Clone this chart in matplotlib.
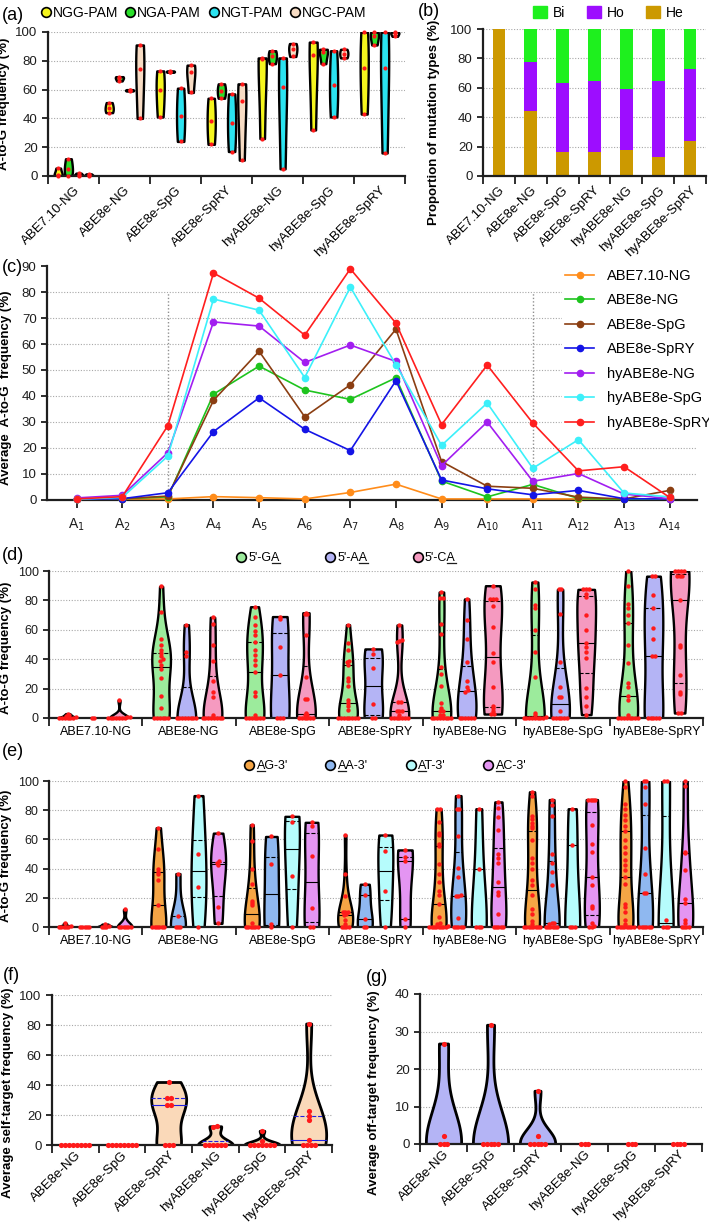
import numpy as np
import matplotlib
matplotlib.use("Agg")
import matplotlib.pyplot as plt
from matplotlib.lines import Line2D
from matplotlib.patches import Patch

plt.rcParams["font.family"] = ["Liberation Sans", "DejaVu Sans"]

W, H = 709, 1222
RED = "#FF1A1A"
INK = "#1E1E1E"

# ---------------- data ----------------
editors7 = ["ABE7.10-NG", "ABE8e-NG", "ABE8e-SpG", "ABE8e-SpRY",
            "hyABE8e-NG", "hyABE8e-SpG", "hyABE8e-SpRY"]
editors6 = editors7[1:]

# (a) A-to-G frequency per PAM
pam_labels = ["NGG-PAM", "NGA-PAM", "NGT-PAM", "NGC-PAM"]
a_ngg = [[0.3, 0.8, 5.5], [44, 47, 51], [41, 60, 73], [22, 38, 54],
         [26, 81, 82], [32, 84, 93], [43, 75, 100]]
a_nga = [[0.3, 5, 12], [66, 68, 69], [72, 72.5, 73], [54, 59, 64],
         [78, 83, 87], [78, 86, 88], [91, 97, 100]]
a_ngt = [[0.3, 0.8, 2], [59, 59.5, 60], [24, 42, 61], [17, 37, 57],
         [5, 62, 82], [41, 63, 87], [16, 75, 100]]
a_ngc = [[0.2, 0.6, 1.5], [40, 74, 91], [58, 72, 77], [11, 52, 64],
         [83, 88, 92], [82, 85, 88], [97, 99, 100]]

# (b) proportion of mutation types
b_he = [100, 44, 16, 16.5, 18, 13, 23.5]
b_ho = [0, 33.5, 47.5, 48, 41, 51.5, 49.5]
b_bi = [0, 22.5, 36.5, 35.5, 41, 35.5, 27]

# (c) average A-to-G frequency at A1..A14
c_pos = list(range(1, 15))
c_abe710_ng = [0.4, 0.4, 0.4, 1.3, 0.9, 0.4, 2.9, 6.1, 0.4, 0.4, 0.4, 0.4, 0.4, 0.4]
c_abe8e_ng = [0.3, 0.5, 1.2, 40.7, 51.5, 42.3, 38.7, 47.0, 7.3, 1.2, 6.0, 0.6, 0.3, 0.4]
c_abe8e_spg = [0.3, 0.5, 1.5, 38.3, 57.2, 32.0, 44.3, 65.7, 14.8, 5.3, 4.5, 1.1, 0.4, 3.7]
c_abe8e_spry = [0.3, 0.5, 2.8, 26.3, 39.3, 27.2, 19.0, 45.9, 7.7, 4.3, 2.0, 3.7, 0.5, 0.4]
c_hy_ng = [0.8, 1.8, 18.2, 68.5, 66.9, 52.9, 59.6, 53.3, 13.2, 30.0, 7.2, 10.2, 2.3, 0.5]
c_hy_spg = [0.3, 1.0, 16.9, 77.3, 73.0, 47.1, 81.9, 52.0, 21.0, 37.3, 12.2, 23.2, 2.7, 1.2]
c_hy_spry = [0.4, 1.3, 28.6, 87.3, 77.6, 63.4, 88.9, 68.0, 29.0, 51.9, 29.6, 11.2, 12.8, 1.0]

# (d) by 5' context (underlined base index given separately)
d_labels = ["5'-GA", "5'-AA", "5'-CA"]
d_under = [4, 4, 4]
d_ga = [
    [0, 0, 0, 0, 0, 0, 1, 1.5, 2, 3],
    [0, 0, 0, 0, 0, 0, 7, 15, 27, 33, 36, 39, 40, 42, 44, 46, 50, 53.5, 72, 89.5],
    [0, 0, 0, 0, 0, 0, 0, 2.3, 14.7, 18, 31.6, 36, 39.5, 43, 46, 52, 56.5, 59, 63, 69, 75.7],
    [0, 0, 0, 0, 0, 0, 0, 0, 5.7, 8, 10, 12.5, 21.5, 25, 27, 36, 38, 39, 46, 51, 63.5],
    [0, 0, 0, 0, 0, 0, 0, 0, 2.3, 2.3, 4.5, 4.5, 6.8, 10, 21.5, 30, 34.6, 57, 64, 81.6, 81.6, 85.7],
    [0, 0, 0, 0, 0, 0, 0, 0, 1, 2, 3.4, 28, 45, 60, 75, 76.6, 87.5, 92.5],
    [0, 0, 0, 0, 0, 0, 0, 0, 2.2, 12.4, 14.7, 21, 23.7, 37.3, 49.7, 64.4, 70, 75, 77.5, 90, 100],
]
d_aa = [
    [0, 0],
    [0, 0, 0, 0, 0, 0, 0, 0, 42.5, 45, 63.5],
    [0, 0, 0, 29.4, 48.5, 67.5, 69],
    [0, 0, 9.5, 34, 43.5, 47],
    [0, 0, 0, 0, 0, 0, 18, 19, 21, 25.5, 38.4, 54, 66.7, 81],
    [0, 0, 0, 0, 0, 0, 4.5, 14, 14, 21, 38, 71, 87.5, 87.5],
    [0, 0, 0, 0, 0, 42, 42, 53.5, 61, 75, 84, 96.5, 96.5],
]
d_ca = [
    [0, 0, 0, 0, 0, 0, 0, 0.5, 1, 12],
    [0, 0, 0, 0, 0, 0, 0, 0, 2, 14, 17.5, 25, 39, 50, 64, 68.5],
    [0, 0, 0, 0, 0, 0, 2, 2, 3.4, 12.9, 12.9, 28, 56.5, 70.5, 71, 71.6],
    [0, 0, 0, 0, 0, 0, 0, 2.3, 4.5, 4.5, 5, 10.6, 10.6, 52, 52.7, 53, 63.3],
    [2.7, 2.7, 4.5, 6.8, 8.4, 21, 38.4, 44, 62, 76, 81, 81, 81, 90],
    [2.3, 8, 14, 20.3, 40.7, 45, 48.5, 51, 60, 70, 82, 84.5, 87.5, 87.5, 87.5],
    [3.4, 3.4, 16.5, 18, 29.4, 48.6, 50, 80, 96.5, 96.5, 96.5, 100, 100, 100, 100],
]

# (e) by 3' context
e_labels = ["AG-3'", "AA-3'", "AT-3'", "AC-3'"]
e_under = [0, 0, 0, 0]
e_ag = [
    [0, 0, 0, 0, 0, 1, 2.5],
    [0, 0, 0, 0, 0, 0, 15, 32.5, 36, 37.8, 40, 53.5, 68],
    [0, 0, 0, 0, 0, 0, 2.5, 15.2, 16.6, 18, 29.5, 40, 59, 70],
    [0, 0, 0, 0, 2, 5, 8, 9, 10, 10.6, 10.6, 21, 36, 63],
    [0, 0, 0, 0, 0, 0, 0, 0, 1, 2, 3, 6.7, 16, 21.7, 24.4, 30.9, 36.6, 43, 55.8, 57, 63,
     64.3, 72, 81, 81],
    [0, 0, 0, 0, 0, 0, 0, 0, 2, 4, 9, 12.4, 21.7, 28.6, 32, 40, 43.5, 47, 59.7, 67.7, 69,
     71.2, 74, 75.8, 89.6, 92.6],
    [0, 0, 0, 0, 0, 0, 0, 0, 2, 5, 10, 13.6, 16, 29.7, 34.3, 39, 42.4, 45.8, 50.5, 55,
     59.7, 65.5, 69, 73.5, 77, 81, 84.3, 96, 100],
]
e_aa = [
    [0, 0, 0, 0, 0],
    [0, 0, 0, 7.4, 36.6],
    [0, 2, 43, 62],
    [0, 0, 5.5, 22, 29.3],
    [0, 0, 0, 0, 0, 6, 21.2, 21.2, 22, 34.3, 40.5, 62, 81, 81, 90],
    [0, 0, 0, 0, 0, 0, 2, 3, 3, 28.6, 37.8, 43.5, 49.8, 75.8, 83.4, 87.3],
    [0, 0, 0, 0, 0, 0, 23.5, 23.5, 36, 54, 84.3, 96, 100, 100],
]
e_at = [
    [0, 0, 0, 1, 2],
    [0, 27.4, 49.8, 90],
    [0, 35, 71.7, 75.8],
    [0, 24.4, 52, 63],
    [0, 0, 0, 39.5, 81],
    [0, 0, 0, 56, 81],
    [0, 0, 0, 5, 100, 100],
]
e_ac = [
    [0, 0, 0, 0, 0, 0, 12],
    [2.5, 14, 42.4, 44, 45, 64.3],
    [0, 0, 12.9, 48.6, 69.4, 71.7],
    [0, 5.5, 45, 48, 52.8],
    [0, 0, 0, 0, 0, 9, 21.7, 24, 31, 43.5, 47.5, 49.8, 66.6, 75.3, 81.6, 85.7],
    [0, 0, 1, 3, 12.9, 14.7, 28.6, 34, 51.6, 56.7, 69.6, 87.3, 87.3, 87.3, 87.3],
    [0, 0, 0, 0, 2.5, 5, 16.6, 19.4, 39, 50.4, 51.6, 96.5, 100],
]

# (f) self-target, (g) off-target
f_self = [
    [0, 0, 0, 0, 0, 0, 0, 0],
    [0, 0, 0, 0, 0, 0, 0, 0],
    [0, 0, 0, 26.5, 26.5, 31.5, 31.5, 42],
    [0, 0, 0, 0, 0, 0, 12, 12.5],
    [0, 0, 0, 0, 0, 0, 0, 2.5, 9.5],
    [0, 0, 0, 0, 3.5, 16.5, 19.5, 22.5, 81],
]
g_off = [
    [0, 0, 0, 2.2, 26.8],
    [0, 0, 0, 0, 0, 31.8],
    [0, 0, 0, 0, 0, 2.2, 14.2],
    [0, 0, 0],
    [0, 0, 0],
    [0, 0, 0, 0],
]


# ---------------- helpers ----------------
def px_axes(fig, left, top, right, bottom):
    return fig.add_axes([left / W, 1 - bottom / H, (right - left) / W, (bottom - top) / H])


def style(ax, size=9):
    for s in ("top", "right"):
        ax.spines[s].set_visible(False)
    for s in ("left", "bottom"):
        ax.spines[s].set_linewidth(1.6)
        ax.spines[s].set_color(INK)
    ax.tick_params(width=1.3, length=4, labelsize=size, colors=INK)
    ax.yaxis.grid(True, color="#A8A8A8", linestyle=(0, (1, 1.5)), linewidth=0.8)
    ax.set_axisbelow(True)


def boundary_ticks(ax, labels, size=9, rotate=False):
    n = len(labels)
    ax.set_xlim(-0.5, n - 0.5)
    ax.set_xticks(np.arange(-0.5, n, 1.0), labels=[])
    ax.set_xticks(np.arange(n), minor=True)
    if rotate:
        ax.set_xticklabels(labels, minor=True, rotation=45, ha="right",
                           rotation_mode="anchor", fontsize=size)
    else:
        ax.set_xticklabels(labels, minor=True, fontsize=size)
    ax.tick_params(axis="x", which="minor", length=0, pad=6)
    ax.tick_params(axis="x", which="major", length=6)


def ylabel_at(ax, text, x_px, y_px, left, top, right, bottom, size=9.5):
    ax.set_ylabel(text, fontsize=size, fontweight="bold")
    ax.yaxis.set_label_coords((x_px - left) / (right - left),
                              (bottom - y_px) / (bottom - top))


def spread(vals, pos, dx, tol):
    vals = np.sort(np.asarray(vals, dtype=float))
    xs = np.empty_like(vals)
    i = 0
    while i < len(vals):
        j = i
        while j + 1 < len(vals) and vals[j + 1] - vals[i] <= tol:
            j += 1
        n = j - i + 1
        xs[i:j + 1] = pos + (np.arange(n) - (n - 1) / 2) * dx
        i = j + 1
    return xs, vals


def half_width(body, pos, y):
    v = body.get_paths()[0].vertices
    r = v[v[:, 0] >= pos]
    order = np.argsort(r[:, 1])
    return np.interp(y, r[order, 1], r[order, 0]) - pos


def violins(ax, groups, positions, color, width, dx, tol=1.0, lw=1.6, pt=10,
            lines=None):
    for vals, p in zip(groups, positions):
        vals = np.asarray(vals, dtype=float)
        if np.ptp(vals) > 0:
            parts = ax.violinplot([vals], positions=[p], widths=width,
                                  showextrema=False, points=200)
            body = parts["bodies"][0]
            body.set_facecolor(color)
            body.set_edgecolor("black")
            body.set_linewidth(lw)
            body.set_alpha(1)
            body.set_zorder(2)
            if lines is not None:
                q1, med, q3 = np.percentile(vals, [25, 50, 75])
                for y, ls in ((med, "-"), (q1, "--"), (q3, "--")):
                    if y <= vals.min() or y >= vals.max():
                        continue
                    hw = half_width(body, p, y)
                    ax.plot([p - hw, p + hw], [y, y], color=lines, lw=0.8,
                            ls=ls, zorder=3)
        xs, ys = spread(vals, p, dx, tol)
        ax.scatter(xs, ys, s=pt, color=RED, zorder=4, clip_on=False, linewidths=0)


def circle_handles(colors):
    return [Line2D([], [], ls="none", marker="o", ms=7, mfc=c, mec="black", mew=1.2)
            for c in colors]


def underline(fig, leg, idxs):
    # draw a short underline below one character of each legend text
    renderer = fig.canvas.get_renderer()
    for t, i in zip(leg.get_texts(), idxs):
        s = t.get_text()
        bb = t.get_window_extent(renderer)
        prop = t.get_fontproperties()
        w0 = renderer.get_text_width_height_descent(s[:i], prop, ismath=False)[0] if i else 0
        w1 = renderer.get_text_width_height_descent(s[:i + 1], prop, ismath=False)[0]
        y = bb.y0 + 1.5
        fig.add_artist(Line2D([(bb.x0 + w0) / W, (bb.x0 + w1) / W], [y / H, y / H],
                              transform=fig.transFigure, color=INK, lw=0.9))


fig = plt.figure(figsize=(W / 100, H / 100), dpi=100)
fig.patch.set_facecolor("white")
PL = 13  # panel letter size

# ---------------- (a) ----------------
ax = px_axes(fig, 48, 32, 405, 176)
style(ax, 9.5)
pam_colors = ["#F5F51E", "#2BE02B", "#2BE3F0", "#F7DCC4"]
offs = [-0.3, -0.1, 0.1, 0.3]
x7 = np.arange(len(editors7))
for data, col, off in zip([a_ngg, a_nga, a_ngt, a_ngc], pam_colors, offs):
    violins(ax, data, x7 + off, col, 0.16, 0.0, tol=0, lw=1.7, pt=9)
ax.set_ylim(0, 100)
ax.set_yticks(range(0, 101, 20))
boundary_ticks(ax, editors7, 9.5, rotate=True)
ylabel_at(ax, "A-to-G frequency (%)", 10, 104, 48, 32, 405, 176)
ax.legend(circle_handles(pam_colors), pam_labels, ncol=4, frameon=False,
          loc="center left", bbox_to_anchor=(40 / W, 1 - 13 / H),
          bbox_transform=fig.transFigure, fontsize=10, handlelength=0.8,
          handletextpad=0.1, columnspacing=0.5, borderpad=0, borderaxespad=0)
fig.text(2 / W, 1 - 15 / H, "(a)", fontsize=PL, va="center", ha="left")

# ---------------- (b) ----------------
ax = px_axes(fig, 483, 29, 706, 176)
style(ax, 9.5)
ax.bar(x7, b_he, 0.4, color="#CC9900", zorder=2)
ax.bar(x7, b_ho, 0.4, bottom=b_he, color="#9D0DFF", zorder=2)
ax.bar(x7, b_bi, 0.4, bottom=np.add(b_he, b_ho), color="#1EF01E", zorder=2)
ax.set_ylim(0, 100)
ax.set_yticks(range(0, 101, 20))
boundary_ticks(ax, editors7, 9.5, rotate=True)
ylabel_at(ax, "Proportion of mutation types (%)", 440, 122, 483, 29, 706, 176)
ax.legend([Patch(color="#1EF01E"), Patch(color="#9D0DFF"), Patch(color="#CC9900")],
          ["Bi", "Ho", "He"], ncol=3, frameon=False, loc="center left",
          bbox_to_anchor=(533 / W, 1 - 13 / H), bbox_transform=fig.transFigure,
          fontsize=10, handlelength=1.0, handleheight=1.0, handletextpad=0.4,
          columnspacing=1.6, borderpad=0, borderaxespad=0)
fig.text(418 / W, 1 - 11 / H, "(b)", fontsize=PL, va="center", ha="left")

# ---------------- (c) ----------------
ax = px_axes(fig, 47, 266, 697, 500)
style(ax, 9.5)
ax.yaxis.grid(False)
ax.set_xlim(0.35, 14.6)
ax.set_ylim(0, 90)
ax.hlines(range(10, 90, 10), 0.35, 14.6, color="#A8A8A8",
          linestyle=(0, (1, 1.5)), linewidth=0.8, zorder=0)
ax.vlines([3, 11], 0, 80, color="#909090", linestyle=(0, (1, 1.5)), linewidth=1.0,
          zorder=0)
c_series = [
    ("ABE7.10-NG", c_abe710_ng, "#FF8C1A"),
    ("ABE8e-NG", c_abe8e_ng, "#1EC41E"),
    ("ABE8e-SpG", c_abe8e_spg, "#8B3E12"),
    ("ABE8e-SpRY", c_abe8e_spry, "#1414E6"),
    ("hyABE8e-NG", c_hy_ng, "#A21EF0"),
    ("hyABE8e-SpG", c_hy_spg, "#3CF0FA"),
    ("hyABE8e-SpRY", c_hy_spry, "#FF1E1E"),
]
for name, vals, col in c_series:
    ax.plot(c_pos, vals, "-o", color=col, lw=1.2, ms=4.5, label=name, clip_on=False,
            zorder=3)
ax.set_yticks(range(0, 91, 10))
ax.set_xticks(c_pos, [f"A$_{{{i}}}$" for i in c_pos], fontsize=10)
ax.tick_params(axis="x", length=6, pad=6)
ylabel_at(ax, "Average  A-to-G  frequency (%)", 12, 388, 47, 266, 697, 500)
leg = ax.legend(loc="upper left", bbox_to_anchor=(562 / W, 1 - 266 / H),
                bbox_transform=fig.transFigure, fontsize=10.5, frameon=True,
                handlelength=2.0, handletextpad=0.9, labelspacing=0.72,
                borderpad=0.2, borderaxespad=0)
leg.get_frame().set_edgecolor("none")
leg.get_frame().set_facecolor("white")
leg.get_frame().set_alpha(1)
fig.text(2 / W, 1 - 268 / H, "(c)", fontsize=PL, va="center", ha="left")

# ---------------- (d) ----------------
ax = px_axes(fig, 49, 571, 703, 718)
style(ax, 9)
d_colors = ["#9CEB9C", "#B4B4F5", "#F59AC0"]
for data, col, off in zip([d_ga, d_aa, d_ca], d_colors, [-0.3, -0.03, 0.25]):
    violins(ax, data, x7 + off, col, 0.2, 0.03, tol=1.0, lw=1.7, pt=10, lines="black")
ax.set_ylim(0, 100)
ax.set_yticks(range(0, 101, 20))
boundary_ticks(ax, editors7, 9)
ylabel_at(ax, "A-to-G frequency (%)", 12, 648, 49, 571, 703, 718)
leg_d = ax.legend(circle_handles(d_colors), d_labels, ncol=3, frameon=False,
                  loc="center left", bbox_to_anchor=(236 / W, 1 - 558 / H),
                  bbox_transform=fig.transFigure, fontsize=9, handlelength=0.8,
                  handletextpad=0.2, columnspacing=3.6, borderpad=0, borderaxespad=0)
fig.text(2 / W, 1 - 555 / H, "(d)", fontsize=PL, va="center", ha="left")

# ---------------- (e) ----------------
ax = px_axes(fig, 49, 781, 703, 927)
style(ax, 9)
e_colors = ["#F5A545", "#8FB8F0", "#B6FCFC", "#E495F2"]
for data, col, off in zip([e_ag, e_aa, e_at, e_ac], e_colors, [-0.33, -0.12, 0.1, 0.31]):
    violins(ax, data, x7 + off, col, 0.16, 0.025, tol=1.0, lw=1.7, pt=10, lines="black")
ax.set_ylim(0, 100)
ax.set_yticks(range(0, 101, 20))
boundary_ticks(ax, editors7, 9)
ylabel_at(ax, "A-to-G frequency (%)", 12, 856, 49, 781, 703, 927)
leg_e = ax.legend(circle_handles(e_colors), e_labels, ncol=4, frameon=False,
                  loc="center left", bbox_to_anchor=(244 / W, 1 - 766 / H),
                  bbox_transform=fig.transFigure, fontsize=9, handlelength=0.8,
                  handletextpad=0.2, columnspacing=3.0, borderpad=0, borderaxespad=0)
fig.text(2 / W, 1 - 752 / H, "(e)", fontsize=PL, va="center", ha="left")

# ---------------- (f) ----------------
x6 = np.arange(len(editors6))
ax = px_axes(fig, 52, 995, 332, 1145)
style(ax, 9.5)
violins(ax, f_self, x6, "#FAD9B9", 0.75, 0.085, tol=1.0, lw=2.0, pt=14, lines="#2020E0")
ax.set_ylim(0, 100)
ax.set_yticks(range(0, 101, 20))
boundary_ticks(ax, editors6, 9.5, rotate=True)
ax.tick_params(axis="x", which="minor", pad=3)
ylabel_at(ax, "Average self-target frequency (%)", 14, 1093, 52, 995, 332, 1145)
fig.text(3 / W, 1 - 975 / H, "(f)", fontsize=PL, va="center", ha="left")

# ---------------- (g) ----------------
ax = px_axes(fig, 420, 994, 702, 1144)
style(ax, 9.5)
violins(ax, g_off, x6, "#B4B4F5", 0.75, 0.085, tol=1.0, lw=2.0, pt=14)
ax.set_ylim(0, 40)
ax.set_yticks(range(0, 41, 10))
boundary_ticks(ax, editors6, 9.5, rotate=True)
ax.tick_params(axis="x", which="minor", pad=3)
ylabel_at(ax, "Average off-target frequency (%)", 380, 1093, 420, 994, 702, 1144)
fig.text(366 / W, 1 - 977 / H, "(g)", fontsize=PL, va="center", ha="left")

fig.canvas.draw()
underline(fig, leg_d, d_under)
underline(fig, leg_e, e_under)

fig.savefig("out.png", dpi=100, facecolor="white")
